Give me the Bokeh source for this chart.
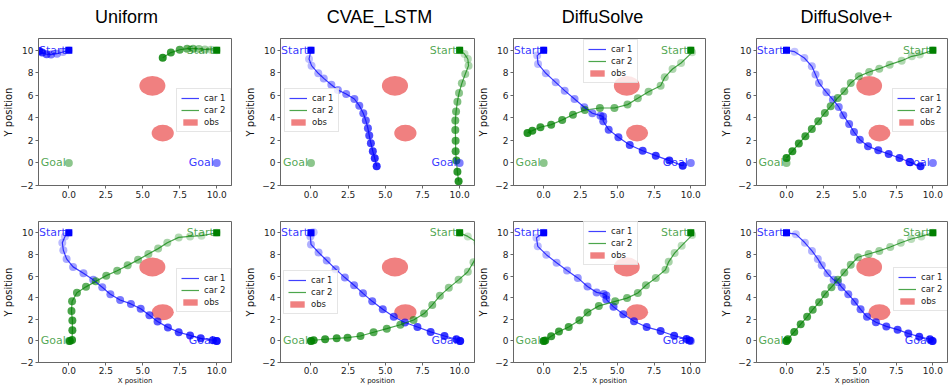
import numpy as np
from bokeh.plotting import figure
from bokeh.layouts import column, row
from bokeh.models import (FixedTicker, Legend, LegendItem, ColumnDataSource,
                          NumeralTickFormatter)
from bokeh.core.properties import value
from bokeh.embed import file_html
from bokeh.resources import INLINE

# ---------------- data ----------------
TITLES = ["Uniform", "CVAE_LSTM", "DiffuSolve", "DiffuSolve+"]
X_TICKS = [0.0, 2.5, 5.0, 7.5, 10.0]
X_TICK_LABELS = ["0.0", "2.5", "5.0", "7.5", "10.0"]
Y_TICKS = [-2, 0, 2, 4, 6, 8, 10]
Y_TICK_LABELS = ["\u22122", "0", "2", "4", "6", "8", "10"]

OBS_X = [5.65, 6.35]
OBS_Y = [6.85, 2.65]
OBS_D = [1.76, 1.5]

START_X = [0.0, 10.0]   # car 1, car 2
START_Y = [10.0, 10.0]
GOAL_X = [10.0, 0.0]    # car 1, car 2
GOAL_Y = [0.0, 0.0]

# top row
UNI_A_C1_X = [0.0, -0.4, -0.8, -1.2, -1.5, -1.8, -2.0]
UNI_A_C1_Y = [10.0, 9.85, 9.7, 9.62, 9.65, 9.8, 9.95]
UNI_A_C2_X = [10.0, 9.6, 9.2, 8.8, 8.4, 8.0, 7.5, 6.9, 6.35]
UNI_A_C2_Y = [10.0, 10.05, 10.08, 10.12, 10.15, 10.15, 10.05, 9.8, 9.35]

CVAE_A_C1_X = [0.0, -0.13, 0.04, 0.49, 0.86, 1.37, 1.81, 2.37, 2.92, 3.25, 3.52, 3.69, 3.83, 3.92, 4.03, 4.16, 4.29, 4.42]
CVAE_A_C1_Y = [10.0, 9.23, 8.64, 7.96, 7.51, 6.95, 6.48, 6.12, 5.68, 5.09, 4.41, 3.76, 3.08, 2.43, 1.75, 1.04, 0.41, -0.30]
CVAE_A_C2_X = [10.0, 10.33, 10.55, 10.6, 10.38, 10.15, 9.96, 9.85, 9.76, 9.71, 9.71, 9.73, 9.73, 9.78, 9.85, 9.93]
CVAE_A_C2_Y = [10.0, 9.67, 9.23, 8.64, 7.9, 7.07, 6.21, 5.44, 4.56, 3.76, 2.93, 1.98, 1.04, 0.21, -0.77, -1.63]

DIFF_A_C1_X = [0.0, -0.44, -0.38, 0.15, 0.82, 1.43, 2.1, 2.76, 3.31, 3.86, 4.04, 4.05, 4.42, 5.08, 5.85, 6.73, 7.62, 8.54, 9.45]
DIFF_A_C1_Y = [10.0, 9.53, 8.79, 7.96, 7.16, 6.42, 5.68, 4.94, 4.41, 4.2, 4.12, 3.7, 2.96, 2.28, 1.6, 1.09, 0.65, 0.21, -0.24]
DIFF_A_C2_X = [10.0, 10.09, 9.34, 8.76, 8.23, 7.95, 7.13, 6.4, 5.7, 4.81, 3.82, 2.8, 1.99, 1.26, 0.51, -0.22, -0.77, -1.1]
DIFF_A_C2_Y = [10.0, 9.82, 8.88, 8.34, 7.6, 6.86, 6.33, 5.74, 5.18, 4.88, 4.88, 4.7, 4.29, 3.82, 3.4, 3.17, 2.87, 2.66]

DIFFP_A_C1_X = [0.0, 0.55, 1.22, 1.73, 1.98, 2.22, 2.73, 3.17, 3.57, 3.88, 4.28, 4.61, 5.01, 5.57, 6.27, 6.98, 7.72, 8.45, 9.16]
DIFFP_A_C1_Y = [10.0, 9.88, 9.32, 8.58, 7.85, 7.1, 6.27, 5.62, 4.97, 4.23, 3.46, 2.75, 2.07, 1.48, 1.12, 0.8, 0.44, 0.06, -0.3]
DIFFP_A_C2_X = [10.0, 9.11, 8.56, 7.87, 7.05, 6.34, 5.65, 4.94, 4.39, 3.95, 3.5, 3.02, 2.62, 2.17, 1.73, 1.29, 0.84, 0.4, 0.0]
DIFFP_A_C2_Y = [10.0, 9.62, 9.47, 9.08, 8.73, 8.37, 8.08, 7.69, 7.1, 6.36, 5.77, 5.03, 4.44, 3.7, 3.02, 2.37, 1.72, 1.04, 0.44]

# bottom row
UNI_B_C1_X = [0.0, -0.26, -0.44, -0.37, -0.15, 0.29, 0.99, 1.65, 2.26, 2.81, 3.47, 4.2, 4.86, 5.45, 6.0, 6.7, 7.43, 8.2, 8.92, 9.74, 10.0]
UNI_B_C1_Y = [10.0, 9.67, 9.08, 8.39, 7.59, 6.85, 6.25, 5.65, 4.97, 4.32, 3.78, 3.42, 2.98, 2.38, 1.79, 1.25, 0.8, 0.51, 0.24, 0.06, 0.0]
UNI_B_C2_X = [10.0, 8.97, 8.2, 7.43, 6.66, 6.04, 5.38, 4.68, 3.98, 3.27, 2.53, 1.82, 1.16, 0.55, 0.22, 0.18, 0.24, 0.24, 0.22, 0.07]
UNI_B_C2_Y = [10.0, 9.73, 9.67, 9.58, 9.08, 8.54, 8.04, 7.5, 6.99, 6.49, 6.04, 5.51, 5.0, 4.46, 3.66, 2.77, 1.88, 0.98, 0.09, 0.0]

CVAE_B_C1_X = [0.0, 0.18, -0.04, 0.0, 0.51, 1.06, 1.66, 2.28, 2.9, 3.5, 4.12, 4.83, 5.57, 6.32, 7.16, 8.05, 8.98, 9.78, 10.04]
CVAE_B_C1_Y = [10.0, 10.06, 9.67, 8.93, 8.18, 7.44, 6.64, 5.86, 5.15, 4.4, 3.66, 2.92, 2.23, 1.7, 1.28, 0.83, 0.45, 0.15, 0.0]
CVAE_B_C2_X = [10.0, 10.55, 11.2, 11.3, 10.93, 10.55, 9.93, 9.27, 8.67, 8.16, 7.61, 6.9, 6.01, 5.1, 4.21, 3.33, 2.46, 1.73, 0.95, 0.18, 0.0]
CVAE_B_C2_Y = [10.0, 9.67, 9.1, 8.2, 7.29, 6.4, 5.65, 4.91, 4.17, 3.33, 2.53, 1.93, 1.49, 1.13, 0.8, 0.45, 0.3, 0.24, 0.15, 0.06, 0.0]

DIFF_B_C1_X = [0.0, -0.49, -0.4, 0.18, 0.88, 1.59, 2.32, 2.98, 3.6, 4.08, 4.26, 4.26, 4.75, 5.41, 6.14, 7.0, 7.95, 8.87, 9.71, 9.93]
DIFF_B_C1_Y = [10.0, 9.55, 8.75, 7.98, 7.23, 6.52, 5.83, 5.03, 4.49, 4.35, 4.2, 3.84, 3.15, 2.47, 1.82, 1.28, 0.92, 0.48, 0.18, 0.03]
DIFF_B_C2_X = [10.0, 10.09, 9.38, 8.9, 8.5, 8.28, 7.62, 6.95, 6.4, 5.67, 4.86, 3.75, 2.98, 2.43, 1.7, 1.04, 0.51, 0.11, 0.0]
DIFF_B_C2_Y = [10.0, 9.79, 8.81, 8.13, 7.32, 6.58, 5.83, 5.15, 4.43, 3.96, 3.66, 3.24, 2.62, 1.9, 1.28, 0.86, 0.42, 0.03, 0.0]

DIFFP_B_C1_X = [0.0, 0.64, 1.26, 1.74, 2.14, 2.41, 2.8, 3.22, 3.51, 3.77, 4.22, 4.66, 5.06, 5.5, 6.11, 6.82, 7.59, 8.32, 9.07, 9.8, 9.96]
DIFFP_B_C1_Y = [10.0, 9.88, 9.08, 8.33, 7.59, 6.99, 6.25, 5.65, 5.42, 4.97, 4.32, 3.63, 2.92, 2.23, 1.73, 1.34, 1.04, 0.68, 0.39, 0.15, 0.0]
DIFFP_B_C2_X = [10.0, 9.21, 8.52, 7.81, 7.09, 6.34, 5.61, 4.88, 4.39, 3.95, 3.51, 3.07, 2.63, 2.23, 1.79, 1.41, 0.97, 0.53, 0.09, 0.0]
DIFFP_B_C2_Y = [10.0, 9.67, 9.43, 9.08, 8.69, 8.33, 8.04, 7.74, 7.05, 6.34, 5.65, 4.97, 4.32, 3.57, 2.89, 2.23, 1.55, 0.83, 0.15, 0.0]

# ---------------- layout / style ----------------
WIDTHS = [242, 233, 243, 230]
LEFT_B = [35, 36, 34, 37]
RIGHT_B = [11, 1, 13, 1]
TITLE_SHIFT = [-7, 3, -5, -5]
LEG_LOC_TOP = [(138, 53), (4, 53), (70, 102), (136, 53)]
LEG_LOC_BOT = [(138, 50), (3, 48), (70, 97), (137, 51)]
X_RANGE = (-2.05, 11.0)
Y_RANGE = (-2.0, 11.05)
BLUE = "#0000ff"
GREEN = "#008000"
OBS_COLOR = "#f08080"
FONT = "DejaVu Sans"


def make_title(col):
    p = figure(width=WIDTHS[col], height=30, x_range=X_RANGE, y_range=(0, 1),
               output_backend="svg", toolbar_location=None,
               min_border_left=LEFT_B[col], min_border_right=RIGHT_B[col],
               min_border_top=0, min_border_bottom=0)
    p.axis.visible = False
    p.grid.visible = False
    p.outline_line_color = None
    p.text(x=[sum(X_RANGE) / 2], y=[0.5], text=[TITLES[col]],
           text_align="center", text_baseline="middle",
           text_font=value("Liberation Sans"), text_font_size="18px",
           text_color="black", x_offset=TITLE_SHIFT[col], y_offset=1)
    return p


def make_panel(col, top, c1x, c1y, c2x, c2y, leg_loc):
    p = figure(width=WIDTHS[col], height=175 if top else 182,
               x_range=X_RANGE, y_range=Y_RANGE,
               output_backend="svg", toolbar_location=None,
               min_border_left=LEFT_B[col], min_border_right=RIGHT_B[col],
               min_border_top=8 if top else 16,
               min_border_bottom=20 if top else 23)
    p.xgrid.visible = False
    p.ygrid.visible = False
    p.outline_line_color = "#666666"
    p.outline_line_width = 1
    p.background_fill_color = "white"
    p.border_fill_color = "white"

    for ax in (p.xaxis[0], p.yaxis[0]):
        ax.axis_line_color = "#666666"
        ax.major_tick_line_color = "#666666"
        ax.major_tick_out = 3
        ax.major_tick_in = 0
        ax.minor_tick_out = 0
        ax.minor_tick_in = 0
        ax.major_label_text_font = FONT
        ax.major_label_text_font_size = "9px"
        ax.major_label_text_color = "#222222"
        ax.major_label_standoff = 2
        ax.axis_label_text_font = FONT
        ax.axis_label_text_font_style = "normal"
        ax.axis_label_text_color = "#111111"

    p.xaxis.ticker = FixedTicker(ticks=X_TICKS)
    p.xaxis.formatter = NumeralTickFormatter(format="0.0")
    p.xaxis.major_label_overrides = dict(zip(X_TICKS, X_TICK_LABELS))
    p.yaxis.ticker = FixedTicker(ticks=Y_TICKS)
    p.yaxis.major_label_overrides = dict(zip(Y_TICKS, Y_TICK_LABELS))
    p.yaxis.axis_label = "Y position"
    p.yaxis.axis_label_text_font_size = "10px"
    p.yaxis.axis_label_standoff = 3
    if not top:
        p.xaxis.axis_label = "X position"
        p.xaxis.axis_label_text_font_size = "7px"
        p.xaxis.axis_label_standoff = 0
        p.xaxis.major_label_standoff = 1

    # obstacles (+ a zero-size quad that only gives the legend its patch)
    p.ellipse(x=OBS_X, y=OBS_Y, width=OBS_D, height=OBS_D,
              fill_color=OBS_COLOR, fill_alpha=1.0, line_color=None)
    obs_leg = p.quad(left=OBS_X[:1], right=OBS_X[:1], top=OBS_Y[:1],
                     bottom=OBS_Y[:1], fill_color=OBS_COLOR, line_color=None)

    # trajectories
    s1 = ColumnDataSource(dict(x=c1x, y=c1y, a=np.linspace(0.2, 0.85, len(c1x))))
    s2 = ColumnDataSource(dict(x=c2x, y=c2y, a=np.linspace(0.2, 0.85, len(c2x))))
    p.scatter("x", "y", source=s1, size=8, fill_color=BLUE, fill_alpha="a",
              line_color=None)
    p.scatter("x", "y", source=s2, size=8, fill_color=GREEN, fill_alpha="a",
              line_color=None)
    l1 = p.line(c1x, c1y, line_color=BLUE, line_width=1.2, line_alpha=0.75)
    l2 = p.line(c2x, c2y, line_color=GREEN, line_width=1.2, line_alpha=0.7)

    # start squares / goal circles
    p.scatter(START_X[:1], START_Y[:1], marker="square", size=7,
              fill_color=BLUE, line_color=None)
    p.scatter(START_X[1:], START_Y[1:], marker="square", size=7,
              fill_color=GREEN, line_color=None)
    p.scatter(GOAL_X[:1], GOAL_Y[:1], size=8, fill_color=BLUE,
              fill_alpha=0.5, line_color=None)
    p.scatter(GOAL_X[1:], GOAL_Y[1:], size=8, fill_color=GREEN,
              fill_alpha=0.45, line_color=None)

    # texts
    common = dict(text_align="right", text_baseline="alphabetic",
                  text_font=value(FONT), text_font_size="11px", x_offset=-3)
    p.text(x=START_X[:1], y=START_Y[:1], text=["Start"], text_color=BLUE,
           text_alpha=0.8, **common)
    p.text(x=START_X[1:], y=START_Y[1:], text=["Start"], text_color=GREEN,
           text_alpha=0.7, **common)
    p.text(x=GOAL_X[:1], y=GOAL_Y[:1], text=["Goal"], text_color=BLUE,
           text_alpha=0.8, **common)
    p.text(x=GOAL_X[1:], y=GOAL_Y[1:], text=["Goal"], text_color=GREEN,
           text_alpha=0.7, **common)

    legend = Legend(items=[LegendItem(label="car 1", renderers=[l1]),
                           LegendItem(label="car 2", renderers=[l2]),
                           LegendItem(label="obs", renderers=[obs_leg])],
                    location=leg_loc)
    legend.label_text_font = FONT
    legend.label_text_font_size = "8.5px"
    legend.label_text_color = "#222222"
    legend.glyph_width = 18
    legend.glyph_height = 8
    legend.label_height = 9
    legend.label_standoff = 5
    legend.spacing = 2
    legend.padding = 4
    legend.margin = 0
    legend.border_line_color = "#cccccc"
    legend.background_fill_alpha = 0.8
    p.add_layout(legend)
    return p


TOP = [(UNI_A_C1_X, UNI_A_C1_Y, UNI_A_C2_X, UNI_A_C2_Y),
       (CVAE_A_C1_X, CVAE_A_C1_Y, CVAE_A_C2_X, CVAE_A_C2_Y),
       (DIFF_A_C1_X, DIFF_A_C1_Y, DIFF_A_C2_X, DIFF_A_C2_Y),
       (DIFFP_A_C1_X, DIFFP_A_C1_Y, DIFFP_A_C2_X, DIFFP_A_C2_Y)]
BOT = [(UNI_B_C1_X, UNI_B_C1_Y, UNI_B_C2_X, UNI_B_C2_Y),
       (CVAE_B_C1_X, CVAE_B_C1_Y, CVAE_B_C2_X, CVAE_B_C2_Y),
       (DIFF_B_C1_X, DIFF_B_C1_Y, DIFF_B_C2_X, DIFF_B_C2_Y),
       (DIFFP_B_C1_X, DIFFP_B_C1_Y, DIFFP_B_C2_X, DIFFP_B_C2_Y)]

title_figs = [make_title(i) for i in range(4)]
top_figs = [make_panel(i, True, *TOP[i], LEG_LOC_TOP[i]) for i in range(4)]
bot_figs = [make_panel(i, False, *BOT[i], LEG_LOC_BOT[i]) for i in range(4)]

layout = column(row(*title_figs, spacing=0), row(*top_figs, spacing=0),
                row(*bot_figs, spacing=0), spacing=0)

open("out.html", "w").write(file_html(layout, INLINE))
